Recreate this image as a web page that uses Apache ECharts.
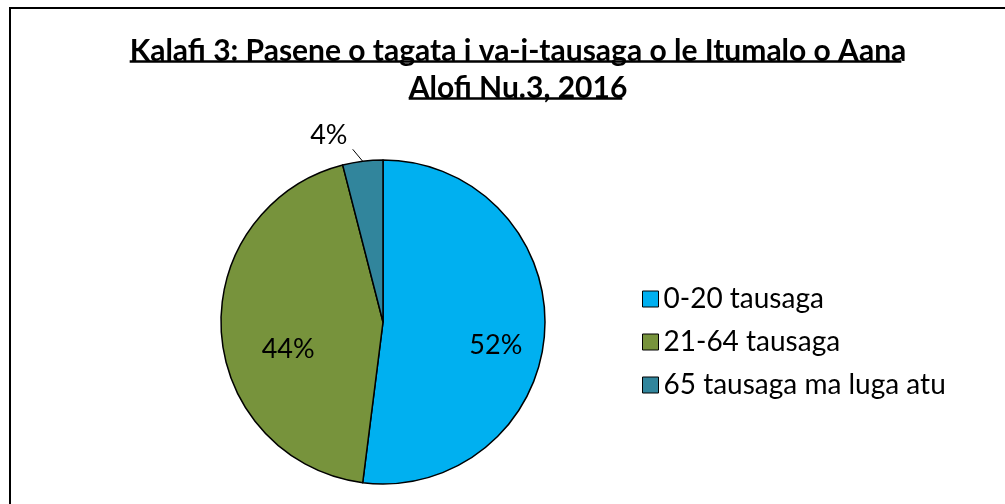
<!DOCTYPE html>
<html>
<head>
<meta charset="utf-8">
<script src="https://cdn.jsdelivr.net/npm/echarts@6/dist/echarts.min.js"></script>
<style>
  html, body { margin: 0; padding: 0; background: #fff; }
  #chart { width: 1005px; height: 504px; }
</style>
</head>
<body>
<div id="chart"></div>
<script>
const TITLE_LINES = ['Kalafi 3: Pasene o tagata i va-i-tausaga o le Itumalo o Aana', 'Alofi Nu.3, 2016'];
const CATEGORIES = ['0-20 tausaga', '21-64 tausaga', '65 tausaga ma luga atu'];
const VALUES = [52, 44, 4];
const COLORS = ['#00b0f0', '#77933c', '#31859c'];

const FONT = 'Lato, "Noto Sans", sans-serif';
const TITLE_SIZE = 30;
const TITLE_LH = 37;
const TITLE_CX = 513;
const TITLE_TOP = 28;

// measure title lines so the underline matches the text width
const ctx = document.createElement('canvas').getContext('2d');
ctx.font = `bold ${TITLE_SIZE}px ${FONT}`;
const underlines = TITLE_LINES.map((line, i) => {
  const w = ctx.measureText(line).width;
  const y = TITLE_TOP + TITLE_LH * i + TITLE_LH / 2 + 15;
  return {
    type: 'line',
    shape: { x1: TITLE_CX - w / 2 + 5, y1: y, x2: TITLE_CX + w / 2, y2: y },
    style: { stroke: '#000', lineWidth: 2.5 },
  };
});

// label tweaks per slice (Excel puts them away from the mid radius)
const labelOpts = [
  { position: 'inside', offset: [29, 18] },
  { position: 'inside', offset: [-11, 22] },
  { position: 'outside' },
];

const chart = echarts.init(document.getElementById('chart'), null, { renderer: 'canvas' });
chart.setOption({
  backgroundColor: '#fff',
  animation: false,
  title: {
    text: TITLE_LINES.join('\n'),
    left: TITLE_CX,
    top: TITLE_TOP,
    textAlign: 'center',
    textStyle: { fontFamily: FONT, fontSize: TITLE_SIZE, fontWeight: 'bold', color: '#000', lineHeight: TITLE_LH },
  },
  legend: {
    orient: 'vertical',
    left: 637,
    top: 280,
    itemGap: 15,
    itemWidth: 16,
    itemHeight: 16,
    icon: 'rect',
    data: CATEGORIES,
    itemStyle: { borderColor: '#000', borderWidth: 1 },
    textStyle: { fontFamily: FONT, fontSize: 28, color: '#000', padding: [0, 0, 0, 0] },
  },
  graphic: [
    {
      type: 'rect',
      shape: { x: 10, y: 8, width: 1100, height: 600 },
      style: { fill: 'none', stroke: '#000', lineWidth: 2 },
      silent: true,
    },
    ...underlines,
  ],
  series: [
    {
      type: 'pie',
      center: [383, 322],
      radius: [0, 162],
      startAngle: 90,
      clockwise: true,
      data: CATEGORIES.map((name, i) => ({
        name,
        value: VALUES[i],
        itemStyle: { color: COLORS[i] },
        label: labelOpts[i],
      })),
      itemStyle: { borderColor: '#000', borderWidth: 1.5 },
      label: {
        formatter: (p) => Math.round(p.percent) + '%',
        fontFamily: FONT,
        fontSize: 27,
        color: '#000',
      },
      labelLine: { show: true, length: 10, length2: 0, lineStyle: { color: '#000', width: 1 } },
      labelLayout: (p) => {
        if (p.dataIndex !== 2 || !p.labelLinePoints) return {};
        const s = p.labelLinePoints[0];
        const e = [s[0] - 10, s[1] - 12];
        return { dx: -9, dy: -16, labelLinePoints: [s, e, e] };
      },
      emphasis: { disabled: true },
    },
  ],
});
</script>
</body>
</html>
